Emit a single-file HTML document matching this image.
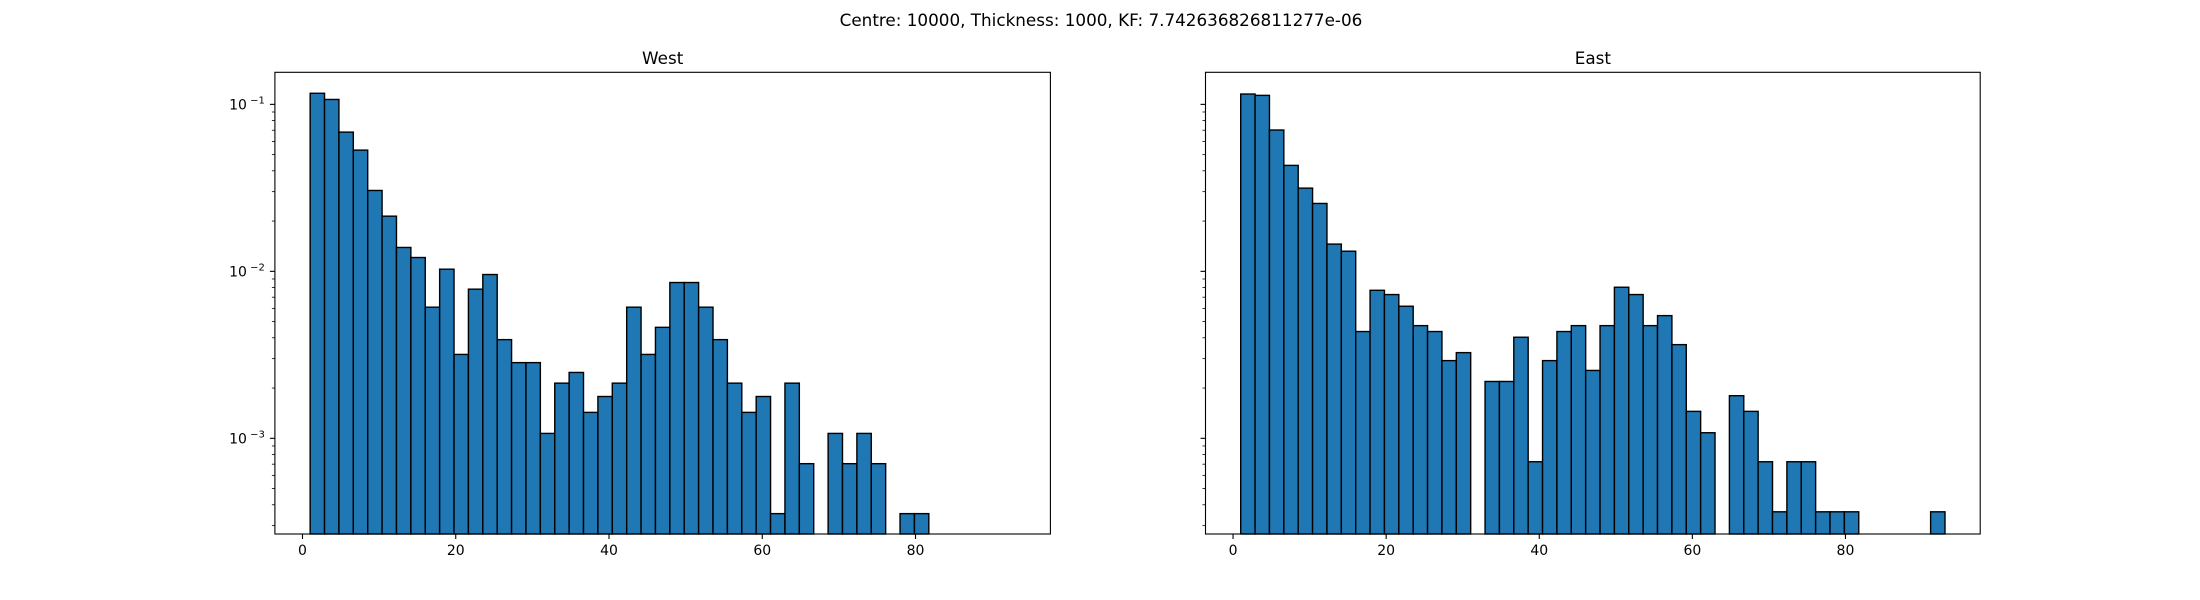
<!DOCTYPE html>
<html><head><meta charset="utf-8">
<style>
html,body{margin:0;padding:0;background:#fff;}
svg{display:block;font-family:"DejaVu Sans","Liberation Sans",sans-serif;}
</style></head>
<body>
<svg id="fig" width="2200" height="600" viewBox="0 0 2200 600" xmlns="http://www.w3.org/2000/svg">
<rect width="2200" height="600" fill="#fff"/>
<text x="1101" y="26" font-size="16.8" text-anchor="middle" fill="#000">Centre: 10000, Thickness: 1000, KF: 7.742636826811277e-06</text>
<g id="west"></g>
<g id="east"></g>
</svg>
<script>
const binStart = 1;
const binEnd = 93;
const binCount = 49;
const westValues = [0.1165,0.107,0.0682,0.0532,0.0305,0.0214,0.0139,0.0121,0.0061,0.0103,0.00318,0.00782,0.00957,0.0039,0.00284,0.00284,0.00107,0.00214,0.00248,0.00143,0.00178,0.00214,0.0061,0.00318,0.00462,0.00857,0.00857,0.0061,0.0039,0.00214,0.00143,0.00178,0.000354,0.00214,0.000705,0,0.00107,0.000705,0.00107,0.000705,0,0.000354,0.000354,0,0,0,0,0,0];
const eastValues = [0.1153,0.1132,0.0702,0.0431,0.0315,0.0255,0.01456,0.0132,0.00436,0.0077,0.00726,0.00618,0.00473,0.00436,0.00292,0.00326,0,0.00219,0.00219,0.00403,0.000724,0.00292,0.00436,0.00473,0.00255,0.00473,0.00803,0.00726,0.00473,0.00543,0.00364,0.00145,0.00108,0,0.0018,0.00145,0.000724,0.000363,0.000724,0.000724,0.000363,0.000363,0.000363,0,0,0,0,0,0.000363];
const xTicks = [0,20,40,60,80];
const yTickExps = [-1,-2,-3];
const panelTitles = ["West","East"];

const NS = "http://www.w3.org/2000/svg";
function mk(tag, attrs, parent){
  const e = document.createElementNS(NS, tag);
  for (const k in attrs) e.setAttribute(k, attrs[k]);
  parent.appendChild(e);
  return e;
}
const xMin = -3.6, xMax = 97.6, yLogMin = -3.573, yLogMax = -0.808;
const plotTop = 72.3, plotBottom = 534;

function drawPanel(g, left, right, title, values, showYLabels){
  const xs = v => left + (v - xMin) / (xMax - xMin) * (right - left);
  const ys = v => plotBottom - (Math.log10(v) - yLogMin) / (yLogMax - yLogMin) * (plotBottom - plotTop);
  const w = (binEnd - binStart) / binCount;
  const t = mk('text', {x:(left+right)/2, y:64, 'font-size':16.8, 'text-anchor':'middle', fill:'#000'}, g);
  
  
  t.textContent = title;
  const bars = mk('g', {}, g);
  
  
  values.forEach((v, i) => {
    if (v <= 0) return;
    const x0 = xs(binStart + i*w), x1 = xs(binStart + (i+1)*w);
    const y0 = Math.max(plotTop, ys(v));
    const r = mk('rect', {x:x0, y:y0, width:x1-x0, height:plotBottom-y0, fill:'#1f77b4', stroke:'#000', 'stroke-width':1.4}, bars);
    
    
  });
  const frame = mk('rect', {x:left, y:plotTop, width:right-left, height:plotBottom-plotTop, fill:'none', stroke:'#000', 'stroke-width':1.1}, g);
  
  
  xTicks.forEach(v => {
    const x = xs(v);
    mk('line', {x1:x, x2:x, y1:plotBottom, y2:plotBottom+5, stroke:'#000', 'stroke-width':1.1}, g);
    const l = mk('text', {x:x, y:plotBottom+21, 'font-size':14, 'text-anchor':'middle', fill:'#000'}, g);
    
    
    l.textContent = v;
  });
  for (let d = -4; d <= 0; d++){
    for (let m = 1; m <= 9; m++){
      const val = m * Math.pow(10, d);
      const lg = Math.log10(val);
      if (lg < yLogMin || lg > yLogMax) continue;
      const y = ys(val);
      mk('line', {x1:left, x2:left-(m===1?5:3), y1:y, y2:y, stroke:'#000', 'stroke-width':(m===1?1.1:0.8)}, g);
    }
  }
  if (showYLabels){
    yTickExps.forEach(e => {
      const y = ys(Math.pow(10, e));
      const l = mk('text', {x:left-28, y:y+5, 'font-size':14, 'text-anchor':'end', fill:'#000'}, g);
      
      
      l.textContent = '10';
      const s = mk('text', {x:left-10, y:y-1, 'font-size':10, 'text-anchor':'end', fill:'#000'}, g);
      
      
      s.textContent = '\u2212' + (-e);
    });
  }
}
drawPanel(document.getElementById('west'), 274.9, 1050.4, panelTitles[0], westValues, true);
drawPanel(document.getElementById('east'), 1205.5, 1980.2, panelTitles[1], eastValues, false);
</script>
</body></html>
